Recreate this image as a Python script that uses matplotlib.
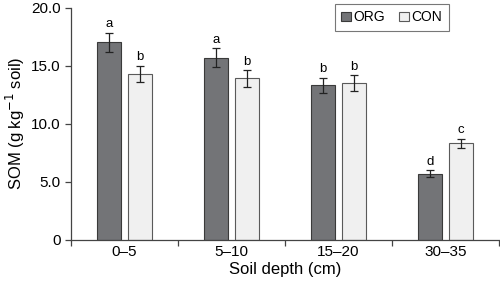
import numpy as np
import matplotlib
matplotlib.use('Agg')
import matplotlib.pyplot as plt

# Data
depths = ['0–5', '5–10', '15–20', '30–35']
org = [17.0, 15.7, 13.3, 5.7]
org_err = [0.85, 0.78, 0.65, 0.3]
con = [14.3, 13.9, 13.5, 8.3]
con_err = [0.7, 0.7, 0.65, 0.4]
org_letters = ['a', 'a', 'b', 'd']
con_letters = ['b', 'b', 'b', 'c']

plt.rcParams['font.family'] = ['Liberation Sans', 'DejaVu Sans']

fig = plt.figure(figsize=(5, 2.82), dpi=100)
ax = fig.add_axes([0.142, 0.15, 0.856, 0.823])

x = np.arange(len(depths))
w = 0.22
off = 0.145

ekw = dict(elinewidth=0.9, capthick=0.9, ecolor='#222222')
ax.bar(x - off, org, w, yerr=org_err, capsize=3, color='#737477',
       edgecolor='#3a3a3a', linewidth=0.8, error_kw=ekw, label='ORG')
ax.bar(x + off, con, w, yerr=con_err, capsize=3, color='#f0f0f0',
       edgecolor='#5a5a5a', linewidth=0.8, error_kw=ekw, label='CON')

for i in range(len(depths)):
    ax.text(x[i] - off, org[i] + org_err[i] + 0.2, org_letters[i],
            ha='center', va='bottom', fontsize=9.5)
    ax.text(x[i] + off, con[i] + con_err[i] + 0.2, con_letters[i],
            ha='center', va='bottom', fontsize=9.5)

ax.set_xlim(-0.5, len(depths) - 0.5)
ax.set_ylim(0, 20)
ax.set_yticks([0, 5, 10, 15, 20])
ax.set_yticklabels(['0', '5.0', '10.0', '15.0', '20.0'], fontsize=11)
ax.set_xticks(np.arange(len(depths) + 1) - 0.5)
ax.set_xticklabels([])
ax.set_xticks(x, minor=True)
ax.set_xticklabels(depths, minor=True, fontsize=11)
ax.tick_params(axis='x', which='minor', length=0, pad=4)
ax.tick_params(axis='both', which='major', length=4, width=0.9, color='#444444')
ax.spines['top'].set_visible(False)
ax.spines['right'].set_visible(False)
for s in ['left', 'bottom']:
    ax.spines[s].set_color('#444444')
    ax.spines[s].set_linewidth(0.9)

ax.set_xlabel('Soil depth (cm)', fontsize=12, labelpad=2)
ax.set_ylabel('SOM (g kg$^{-1}$ soil)', fontsize=12, labelpad=3)

leg = ax.legend(loc='upper left', bbox_to_anchor=(0.6, 1.045), ncol=2,
                fontsize=10, frameon=True, fancybox=False, handlelength=0.7,
                handleheight=0.7, handletextpad=0.2, columnspacing=1.0,
                borderpad=0.45)
leg.get_frame().set_edgecolor('#555555')
leg.get_frame().set_linewidth(0.8)

fig.savefig('out.png', dpi=100)
